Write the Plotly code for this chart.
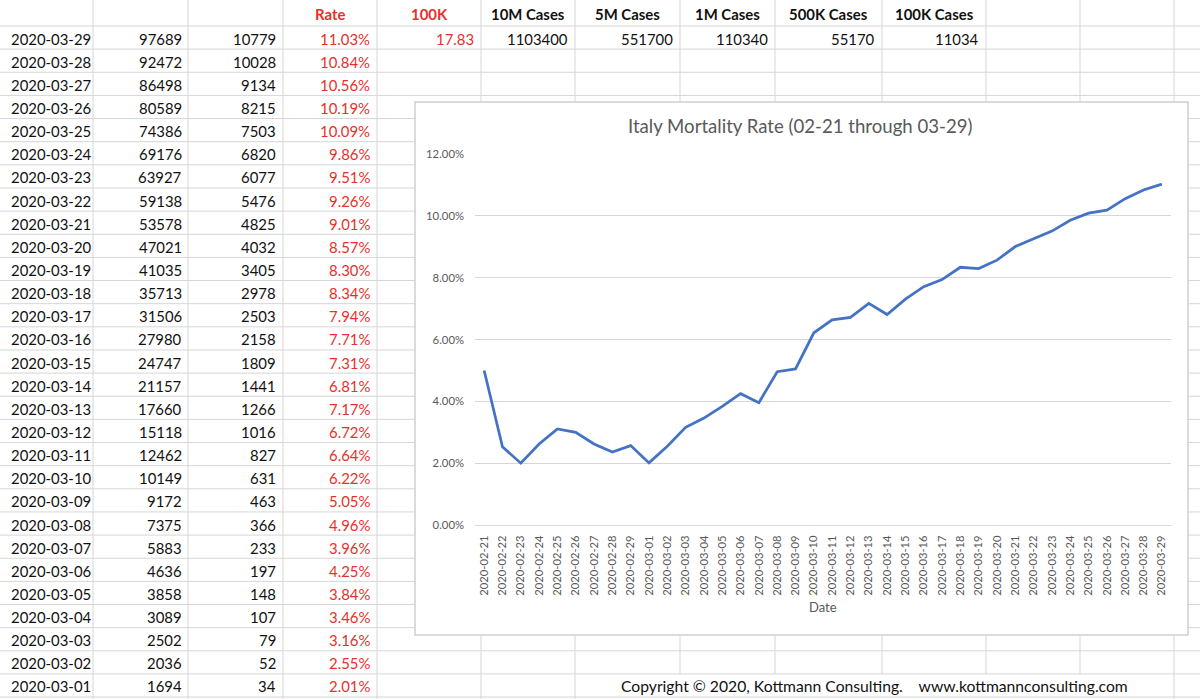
import plotly.graph_objects as go

W, H = 1200, 699

# ---------------- data ----------------
table_dates = ["2020-03-29", "2020-03-28", "2020-03-27", "2020-03-26", "2020-03-25",
               "2020-03-24", "2020-03-23", "2020-03-22", "2020-03-21", "2020-03-20",
               "2020-03-19", "2020-03-18", "2020-03-17", "2020-03-16", "2020-03-15",
               "2020-03-14", "2020-03-13", "2020-03-12", "2020-03-11", "2020-03-10",
               "2020-03-09", "2020-03-08", "2020-03-07", "2020-03-06", "2020-03-05",
               "2020-03-04", "2020-03-03", "2020-03-02", "2020-03-01"]
table_cases = [97689, 92472, 86498, 80589, 74386, 69176, 63927, 59138, 53578, 47021,
               41035, 35713, 31506, 27980, 24747, 21157, 17660, 15118, 12462, 10149,
               9172, 7375, 5883, 4636, 3858, 3089, 2502, 2036, 1694]
table_deaths = [10779, 10028, 9134, 8215, 7503, 6820, 6077, 5476, 4825, 4032,
                3405, 2978, 2503, 2158, 1809, 1441, 1266, 1016, 827, 631,
                463, 366, 233, 197, 148, 107, 79, 52, 34]
table_rates = [11.03, 10.84, 10.56, 10.19, 10.09, 9.86, 9.51, 9.26, 9.01, 8.57,
               8.30, 8.34, 7.94, 7.71, 7.31, 6.81, 7.17, 6.72, 6.64, 6.22,
               5.05, 4.96, 3.96, 4.25, 3.84, 3.46, 3.16, 2.55, 2.01]

header_labels = ["Rate", "100K", "10M Cases", "5M Cases", "1M Cases", "500K Cases", "100K Cases"]
summary_values = ["17.83", "1103400", "551700", "110340", "55170", "11034"]

chart_dates = ["2020-02-21", "2020-02-22", "2020-02-23", "2020-02-24", "2020-02-25",
               "2020-02-26", "2020-02-27", "2020-02-28", "2020-02-29", "2020-03-01",
               "2020-03-02", "2020-03-03", "2020-03-04", "2020-03-05", "2020-03-06",
               "2020-03-07", "2020-03-08", "2020-03-09", "2020-03-10", "2020-03-11",
               "2020-03-12", "2020-03-13", "2020-03-14", "2020-03-15", "2020-03-16",
               "2020-03-17", "2020-03-18", "2020-03-19", "2020-03-20", "2020-03-21",
               "2020-03-22", "2020-03-23", "2020-03-24", "2020-03-25", "2020-03-26",
               "2020-03-27", "2020-03-28", "2020-03-29"]
feb_rates = [5.00, 2.53, 2.00, 2.62, 3.11, 3.00, 2.62, 2.36, 2.57]
chart_rates = [r / 100 for r in feb_rates + table_rates[::-1]]

chart_title = "Italy Mortality Rate (02-21 through 03-29)"
x_title = "Date"
copyright_text = "Copyright © 2020, Kottmann Consulting.    www.kottmannconsulting.com"

# ---------------- styling / geometry ----------------
FONT = "Lato, 'Open Sans', sans-serif"
RED = "#E8302A"
BLACK = "#111111"
GRAY = "#595959"
GRID = "#D6D6D6"
CELL_SIZE = 14.9

col_edges = [0, 93, 188, 283, 377, 481, 575, 680, 775, 882, 986, 1080, 1174]
row_top = 26.0
row_h = 23.14
n_rows = len(table_dates)


def px(x):
    return x / W


def py(y):
    return 1 - y / H


def row_center(i):
    return row_top + row_h * i + row_h / 2 + 1


shapes = []
# horizontal grid lines
for k in range(n_rows + 1):
    y = row_top + row_h * k
    shapes.append(dict(type="line", xref="paper", yref="paper",
                       x0=0, x1=1, y0=py(y), y1=py(y),
                       line=dict(color=GRID, width=1), layer="below"))
# vertical grid lines
last_row_top = row_top + row_h * (n_rows - 1)
for x in col_edges[1:]:
    shapes.append(dict(type="line", xref="paper", yref="paper",
                       x0=px(x), x1=px(x), y0=py(0), y1=py(last_row_top),
                       line=dict(color=GRID, width=1), layer="below"))
    if x <= 575 or x >= 1174:
        shapes.append(dict(type="line", xref="paper", yref="paper",
                           x0=px(x), x1=px(x), y0=py(last_row_top), y1=0,
                           line=dict(color=GRID, width=1), layer="below"))
# chart box
shapes.append(dict(type="rect", xref="paper", yref="paper",
                   x0=px(415), x1=px(1188), y0=py(635), y1=py(102),
                   fillcolor="white", line=dict(color="#D0D0D0", width=1.5),
                   layer="below"))

annotations = []


def cell(text, x, y, anchor, color=BLACK, bold=False, size=CELL_SIZE):
    annotations.append(dict(
        text=f"<b>{text}</b>" if bold else text,
        xref="paper", yref="paper", x=px(x), y=py(y),
        xanchor=anchor, yanchor="middle", showarrow=False,
        font=dict(family=FONT, size=size, color=color)))


# header row
header_y = 14.0
for j, lab in enumerate(header_labels):
    c0, c1 = col_edges[3 + j], col_edges[4 + j]
    color = RED if j < 2 else BLACK
    cell(lab, (c0 + c1) / 2, header_y, "center", color=color, bold=True)

# summary row (row of 03-29)
for j, val in enumerate(summary_values):
    right = col_edges[5 + j] - 5
    cell(val, right, row_center(0), "right", color=RED if j == 0 else BLACK)

# table body
for i in range(n_rows):
    yc = row_center(i)
    cell(table_dates[i], 9, yc, "left")
    cell(str(table_cases[i]), col_edges[2] - 4, yc, "right")
    cell(str(table_deaths[i]), col_edges[3] - 5, yc, "right")
    cell(f"{table_rates[i]:.2f}%", col_edges[4] - 5, yc, "right", color=RED)

# copyright
cell(copyright_text, 874.5, row_center(n_rows - 1), "center", size=15.7)

# chart title and axis title
annotations.append(dict(text=chart_title, xref="paper", yref="paper",
                        x=px(800), y=py(126), xanchor="center", yanchor="middle",
                        showarrow=False, font=dict(family=FONT, size=18.6, color=GRAY)))
annotations.append(dict(text=x_title, xref="paper", yref="paper",
                        x=px(823), y=py(607), xanchor="center", yanchor="middle",
                        showarrow=False, font=dict(family=FONT, size=13, color=GRAY)))

fig = go.Figure()
fig.add_trace(go.Scatter(x=chart_dates, y=chart_rates, mode="lines",
                         line=dict(color="#4472C4", width=2.75),
                         hoverinfo="skip", showlegend=False))

fig.update_layout(
    template="none",
    width=W, height=H, autosize=False,
    margin=dict(l=0, r=0, t=0, b=0, pad=0, autoexpand=False),
    paper_bgcolor="white", plot_bgcolor="rgba(0,0,0,0)",
    shapes=shapes, annotations=annotations,
    showlegend=False,
    xaxis=dict(type="category", domain=[px(475), px(1171)], range=[-0.5, 37.5],
               automargin=False,
               showgrid=False, zeroline=False, showline=True, linecolor=GRID, linewidth=1,
               ticks="", tickangle=-90, ticklabelstandoff=5,
               tickfont=dict(family=FONT, size=11.2, color=GRAY)),
    yaxis=dict(domain=[py(525), py(154)], range=[0, 0.12005],
               automargin=False,
               tickvals=[0, 0.02, 0.04, 0.06, 0.08, 0.10, 0.12], tickformat=".2%",
               showgrid=True, gridcolor=GRID, gridwidth=1, zeroline=False, showline=False,
               ticks="", ticklabelstandoff=10,
               tickfont=dict(family=FONT, size=11.3, color=GRAY)),
)

fig.write_html(
    "out.html",
    config={"displayModeBar": False},
    post_script=(
        "document.documentElement.style.margin='0px';"
        "document.documentElement.style.overflow='hidden';"
        "document.body.style.margin='0px';"
        "document.body.style.overflow='hidden';"
        "var gd=document.getElementById('{plot_id}');"
        "gd.style.position='fixed';gd.style.top='0px';gd.style.left='0px';"
    ),
)
